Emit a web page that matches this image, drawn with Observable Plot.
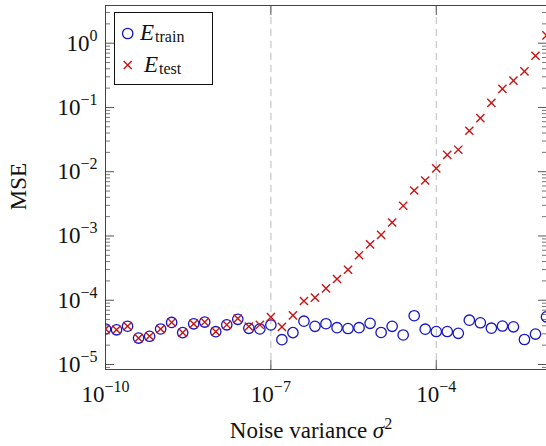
<!DOCTYPE html>
<html><head><meta charset="utf-8">
<script src="https://cdn.jsdelivr.net/npm/d3@7"></script>
<script src="https://cdn.jsdelivr.net/npm/@observablehq/plot@0.6"></script>
<style>
body{margin:0;background:#fff;}
#wrap{position:relative;width:546px;height:446px;overflow:hidden;}
</style></head><body><div id="wrap"></div>
<script>
// log10 of noise variance sigma^2 at each sample
const noiseExp = [-10,-9.8,-9.6,-9.4,-9.2,-9,-8.8,-8.6,-8.4,-8.2,-8,-7.8,-7.6,-7.4,-7.2,-7,-6.8,-6.6,-6.4,-6.2,-6,-5.8,-5.6,-5.4,-5.2,-5,-4.8,-4.6,-4.4,-4.2,-4,-3.8,-3.6,-3.4,-3.2,-3,-2.8,-2.6,-2.4,-2.2,-2];
const trainMSE = [3.57e-5,3.47e-5,3.94e-5,2.58e-5,2.75e-5,3.57e-5,4.51e-5,3.13e-5,4.30e-5,4.58e-5,3.24e-5,4.15e-5,5.05e-5,3.66e-5,3.57e-5,4.12e-5,2.43e-5,3.13e-5,4.72e-5,3.93e-5,4.31e-5,3.74e-5,3.63e-5,3.74e-5,4.38e-5,3.15e-5,3.93e-5,2.88e-5,5.74e-5,3.54e-5,3.26e-5,3.26e-5,3.06e-5,4.89e-5,4.46e-5,3.67e-5,3.97e-5,3.86e-5,2.45e-5,2.98e-5,5.52e-5];
const testMSE = [3.57e-5,3.47e-5,3.94e-5,2.58e-5,2.75e-5,3.57e-5,4.51e-5,3.13e-5,4.30e-5,4.58e-5,3.24e-5,4.15e-5,5.2e-5,3.90e-5,4.15e-5,5.45e-5,3.86e-5,5.83e-5,9.73e-5,1.10e-4,1.53e-4,2.14e-4,2.98e-4,5.02e-4,7.42e-4,1.04e-3,1.62e-3,2.95e-3,5.10e-3,7.30e-3,1.13e-2,1.83e-2,2.20e-2,4.34e-2,6.81e-2,0.118,0.195,0.261,0.365,0.638,1.32];
const xTicks = [1e-10, 1e-7, 1e-4];
const xGrid = [1e-7, 1e-4];
const yTicks = [1e0, 1e-1, 1e-2, 1e-3, 1e-4, 1e-5];
const yMinor = [];
for (let k = -6; k <= 0; k++) for (let m = 2; m <= 9; m++) yMinor.push(m * Math.pow(10, k));

const BLUE = "#1414c8", RED = "#c81414";
const FONT = "'Liberation Serif', 'Times New Roman', serif";
const rows = noiseExp.map((e, i) => ({x: Math.pow(10, e), train: trainMSE[i], test: testMSE[i]}));
const expFmt = d => "10^" + Math.round(Math.log10(d));
const yMinorIn = yMinor.filter(v => v > 8.36e-6 && v < 3.86);

const svg = Plot.plot({
  width: 546, height: 446,
  marginLeft: 105, marginRight: 0, marginTop: 5, marginBottom: 77,
  style: {fontFamily: FONT, background: "#fff"},
  x: {type: "log", domain: [1e-10, 1e-2]},
  y: {type: "log", domain: [8.36e-6, 3.86]},
  marks: [
    Plot.ruleX(xGrid, {stroke: "#bbb", strokeDasharray: "7,5", strokeWidth: 1}),
    Plot.axisY(yTicks, {anchor: "left", tickSize: 9, dx: 9, fill: "none", stroke: "#555", label: null}),
    Plot.axisY(yMinorIn, {anchor: "left", tickSize: 5, dx: 5, fill: "none", stroke: "#777", label: null}),
    Plot.axisY(yTicks, {anchor: "right", tickSize: 9, dx: -9, fill: "none", stroke: "#555", label: null}),
    Plot.axisY(yMinorIn, {anchor: "right", tickSize: 5, dx: -5, fill: "none", stroke: "#777", label: null}),
    Plot.axisX(xTicks, {anchor: "bottom", tickSize: 9, dy: -9, fill: "none", stroke: "#555", label: null}),
    Plot.axisX(xTicks, {anchor: "top", tickSize: 9, dy: 9, fill: "none", stroke: "#555", label: null}),
    Plot.axisY(yTicks, {anchor: "left", tickSize: 0, tickPadding: 8, tickFormat: expFmt, fontSize: 23, fill: "#111", label: null}),
    Plot.axisX(xTicks, {anchor: "bottom", tickSize: 0, tickPadding: 16, tickFormat: expFmt, fontSize: 23, fill: "#111", label: null}),
    Plot.frame({stroke: "#444", strokeWidth: 1}),
    Plot.dot(rows, {x: "x", y: "train", r: 5.2, stroke: BLUE, strokeWidth: 1.3, fill: "none", clip: true}),
    Plot.dot(rows, {x: "x", y: "test", symbol: "times", r: 3.8, stroke: RED, strokeWidth: 1.4, clip: true})
  ]
});
document.getElementById("wrap").appendChild(svg);

// superscripts for tick labels
d3.select(svg).selectAll("text").each(function() {
  const t = this.textContent;
  const m = /^10\^(-?\d+)$/.exec(t);
  if (!m) return;
  const sel = d3.select(this);
  sel.text("10");
  sel.append("tspan").attr("dy", -10).attr("font-size", 16).text(m[1].replace("-", "\u2212"));
});

const s = d3.select(svg);
// axis labels
s.append("text").attr("x", 311).attr("y", 438).attr("text-anchor", "middle")
  .attr("font-size", 23).attr("fill", "#111")
  .call(t => {
    t.append("tspan").text("Noise variance ");
    t.append("tspan").attr("font-style", "italic").text("\u03C3");
    t.append("tspan").attr("dy", -9).attr("font-size", 16).text("2");
  });
s.append("text").attr("transform", "translate(26,186.5) rotate(-90)").attr("text-anchor", "middle")
  .attr("font-size", 23).attr("fill", "#111").text("MSE");

// legend
const lg = s.append("g");
lg.append("rect").attr("x", 114.5).attr("y", 12.5).attr("width", 98).attr("height", 72)
  .attr("fill", "#fff").attr("stroke", "#111").attr("stroke-width", 1);
lg.append("circle").attr("cx", 127.7).attr("cy", 33.5).attr("r", 5.2)
  .attr("fill", "none").attr("stroke", BLUE).attr("stroke-width", 1.3);
lg.append("path").attr("d", "M123.7,61L131.7,69M123.7,69L131.7,61")
  .attr("stroke", RED).attr("stroke-width", 1.4);
const leg = [["train", 140, 40], ["test", 144, 71.7]];
leg.forEach(([sub, x, y]) => {
  const t = lg.append("text").attr("x", x).attr("y", y).attr("text-anchor", "start")
    .attr("font-size", 23).attr("fill", "#111");
  t.append("tspan").attr("font-style", "italic").text("E");
  t.append("tspan").attr("font-size", 16).attr("dy", 2).attr("dx", 1).text(sub);
});

s.selectAll("text").style("font-family", FONT);
</script></body></html>
